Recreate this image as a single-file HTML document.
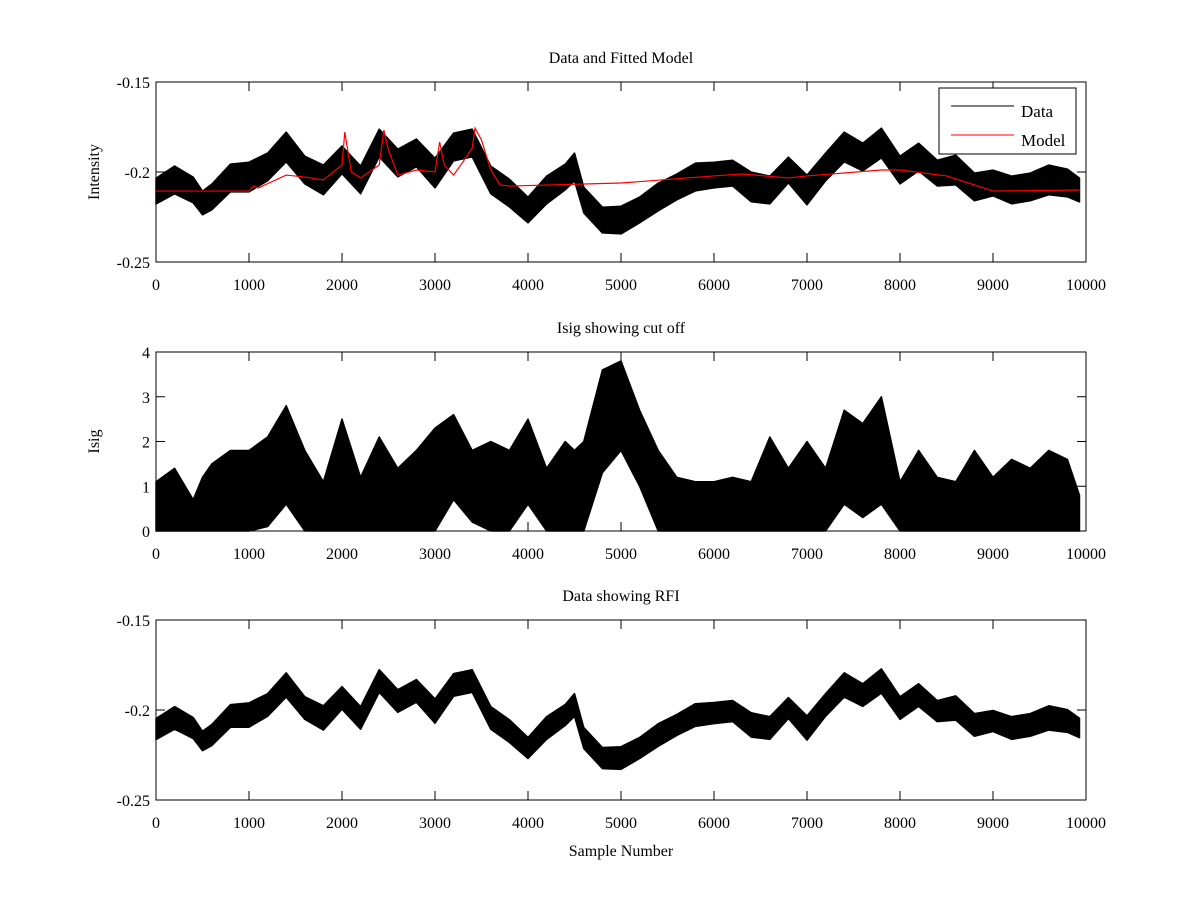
<!DOCTYPE html>
<html><head><meta charset="utf-8"><style>
body{margin:0;background:#fff;}
svg text{font-family:"Liberation Serif",serif;font-size:16px;fill:#000;}
</style></head><body>
<svg id="fig" width="1200" height="900" xmlns="http://www.w3.org/2000/svg">
<rect width="1200" height="900" fill="#fff"/>
</svg>
<script>
// ---- data ----
const samples = [0,200,400,500,600,800,1000,1200,1400,1600,1800,2000,2200,2400,2600,2800,3000,3200,3400,3600,3800,4000,4200,4400,4500,4600,4800,5000,5200,5400,5600,5800,6000,6200,6400,6600,6800,7000,7200,7400,7600,7800,8000,8200,8400,8600,8800,9000,9200,9400,9600,9800,9930];
const dataCenter = [-0.2106,-0.2044,-0.21,-0.2172,-0.2139,-0.2033,-0.2028,-0.1972,-0.1861,-0.1989,-0.2044,-0.1933,-0.2044,-0.1839,-0.1950,-0.1894,-0.2006,-0.1861,-0.1839,-0.2044,-0.2117,-0.2211,-0.2100,-0.2028,-0.1972,-0.2156,-0.2267,-0.2267,-0.2211,-0.2139,-0.2083,-0.2028,-0.2017,-0.2006,-0.2083,-0.2100,-0.1989,-0.2100,-0.1972,-0.1861,-0.1917,-0.1839,-0.1989,-0.1917,-0.2006,-0.1989,-0.2083,-0.2061,-0.2100,-0.2083,-0.2044,-0.2061,-0.2100];
const dataSpread = [0.0065,0.007,0.0065,0.006,0.0065,0.007,0.0075,0.007,0.0075,0.007,0.0075,0.007,0.007,0.007,0.007,0.007,0.0075,0.007,0.007,0.007,0.007,0.0065,0.007,0.0065,0.007,0.0065,0.0065,0.007,0.0065,0.007,0.0065,0.007,0.0065,0.0065,0.0075,0.007,0.0065,0.0075,0.007,0.0075,0.007,0.0075,0.007,0.007,0.0065,0.0075,0.007,0.0065,0.007,0.007,0.0075,0.007,0.006];
const modelSamples = [0,1000,1050,1100,1400,1600,1800,2000,2030,2100,2200,2400,2450,2500,2600,2800,3000,3050,3100,3200,3300,3400,3430,3500,3600,3700,3800,5000,6000,6300,6800,7000,7800,8000,8500,8800,9000,9930];
const modelValues = [-0.2106,-0.2106,-0.2078,-0.2089,-0.2017,-0.2028,-0.2044,-0.1961,-0.1778,-0.2,-0.2033,-0.1961,-0.1767,-0.1878,-0.2017,-0.1989,-0.2,-0.1833,-0.1961,-0.2017,-0.1944,-0.1867,-0.1756,-0.1822,-0.1989,-0.2072,-0.2078,-0.2061,-0.2022,-0.2011,-0.2033,-0.2022,-0.1989,-0.1989,-0.2022,-0.2072,-0.2106,-0.21];
const isigUpper = [1.1,1.4,0.7,1.2,1.5,1.8,1.8,2.1,2.8,1.8,1.1,2.5,1.2,2.1,1.4,1.8,2.3,2.6,1.8,2.0,1.8,2.5,1.4,2.0,1.8,2.0,3.6,3.8,2.7,1.8,1.2,1.1,1.1,1.2,1.1,2.1,1.4,2.0,1.4,2.7,2.4,3.0,1.1,1.8,1.2,1.1,1.8,1.2,1.6,1.4,1.8,1.6,0.8];
const isigLower = [0,0,0,0,0,0,0,0.1,0.6,0,0,0,0,0,0,0,0,0.7,0.2,0,0,0.6,0,0,0,0,1.3,1.8,1.0,0,0,0,0,0,0,0,0,0,0,0.6,0.3,0.6,0,0,0,0,0,0,0,0,0,0,0];
const xTicks = [0,1000,2000,3000,4000,5000,6000,7000,8000,9000,10000];
const yTicks1 = [-0.15,-0.2,-0.25];
const yTicks2 = [0,1,2,3,4];
const yTicks3 = [-0.15,-0.2,-0.25];

const NS='http://www.w3.org/2000/svg';
const svg=document.getElementById('fig');
function mk(tag,attrs,parent){const e=document.createElementNS(NS,tag);for(const k in attrs)e.setAttribute(k,attrs[k]);(parent||svg).appendChild(e);return e;}
const X0=156,X1=1086;
function xs(v){return X0+(v/10000)*(X1-X0);}
function makeY(top,bot,vmax,vmin){return v=>top+(vmax-v)/(vmax-vmin)*(bot-top);}

function axes(name,top,bot,ys,yTicks,fmt,title,ylabel){
  const g=mk('g',{});
  
  
  const f=mk('rect',{x:X0,y:top,width:X1-X0,height:bot-top,fill:'none',stroke:'#000','stroke-width':1},g);
  
  
  xTicks.forEach(t=>{
    const x=xs(t);
    mk('line',{x1:x,x2:x,y1:bot,y2:bot-9,stroke:'#000'},g);
    mk('line',{x1:x,x2:x,y1:top,y2:top+9,stroke:'#000'},g);
    const tx=mk('text',{x:x,y:bot+28,'text-anchor':'middle'},g);
    tx.textContent=t;
    
    
  });
  yTicks.forEach(t=>{
    const y=ys(t);
    mk('line',{x1:X0,x2:X0+9,y1:y,y2:y,stroke:'#000'},g);
    mk('line',{x1:X1,x2:X1-9,y1:y,y2:y,stroke:'#000'},g);
    const tx=mk('text',{x:X0-6,y:y+6,'text-anchor':'end'},g);
    tx.textContent=fmt(t);
    
    
  });
  const tt=mk('text',{x:(X0+X1)/2,y:top-19,'text-anchor':'middle'},g);
  tt.textContent=title;
  
  
  const yl=mk('text',{x:0,y:0,'text-anchor':'middle',transform:`translate(${X0-57},${(top+bot)/2}) rotate(-90)`},g);
  yl.textContent=ylabel;
  
  
  return g;
}
function band(ys,upperArr,lowerArr,name,color){
  let pts=samples.map((s,i)=>xs(s)+','+ys(upperArr[i]));
  let low=samples.map((s,i)=>xs(s)+','+ys(lowerArr[i])).reverse();
  const p=mk('polygon',{points:pts.concat(low).join(' '),fill:color,stroke:color,'stroke-width':1.5,'stroke-linejoin':'round'});
  
  
}
const fmt1=t=>t===-0.2?'-0.2':t.toFixed(2);
// Panel 1
const y1=makeY(82,262,-0.15,-0.25);
axes('data-model-axes',82,262,y1,yTicks1,fmt1,'Data and Fitted Model','Intensity');
band(y1,dataCenter.map((c,i)=>c+dataSpread[i]*1.1),dataCenter.map((c,i)=>c-dataSpread[i]*1.1),'data-series','#000');
const ml=mk('polyline',{points:modelSamples.map((s,i)=>xs(s)+','+y1(modelValues[i])).join(' '),fill:'none',stroke:'#f00','stroke-width':1.2});


const lg=mk('g',{});


mk('rect',{x:939,y:88,width:137,height:66,fill:'#fff',stroke:'#000'},lg);
mk('line',{x1:951,x2:1014,y1:106,y2:106,stroke:'#000'},lg);
mk('line',{x1:951,x2:1014,y1:135,y2:135,stroke:'#f00'},lg);
const l1=mk('text',{x:1021,y:117,style:'font-size:17px'},lg);l1.textContent='Data';


const l2=mk('text',{x:1021,y:146,style:'font-size:17px'},lg);l2.textContent='Model';


// Panel 2
const y2=makeY(352,531,4,0);
axes('isig-axes',352,531,y2,yTicks2,t=>String(t),'Isig showing cut off','Isig');
band(y2,isigUpper,isigLower,'isig-series','#000');
// Panel 3
const y3=makeY(620,800,-0.15,-0.25);
axes('rfi-axes',620,800,y3,yTicks3,fmt1,'Data showing RFI','');
band(y3,dataCenter.map((c,i)=>c+dataSpread[i]*0.9),dataCenter.map((c,i)=>c-dataSpread[i]*0.9),'rfi-data-series','#000');
const xl=mk('text',{x:621,y:856,'text-anchor':'middle'});
xl.textContent='Sample Number';


</script>
</body></html>
